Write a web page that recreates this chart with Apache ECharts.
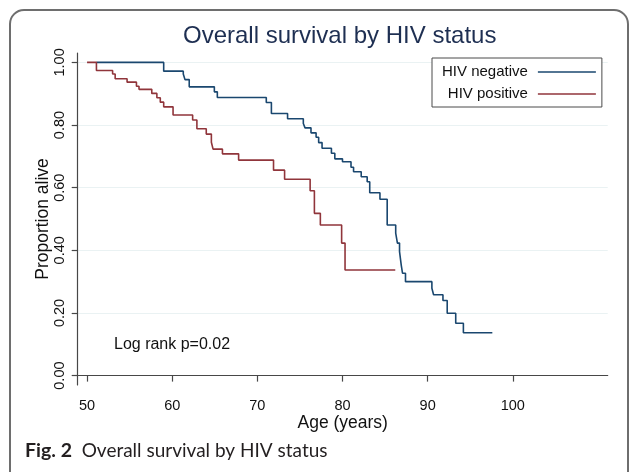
<!DOCTYPE html>
<html>
<head>
<meta charset="utf-8">
<script src="https://cdn.jsdelivr.net/npm/echarts@6/dist/echarts.min.js"></script>
<style>
html, body { margin: 0; padding: 0; background: #fff; }
#chart { width: 630px; height: 472px; }
</style>
</head>
<body>
<div id="chart"></div>
<script>
// Kaplan-Meier step points [age, proportion alive]
var hivNegative = [
    [51.1, 1.000], [59.0, 0.972], [61.3, 0.963], [61.5, 0.945], [62.0, 0.922],
    [64.95, 0.906], [65.3, 0.888], [71.05, 0.872], [71.65, 0.837], [73.55, 0.820],
    [75.4, 0.805], [75.6, 0.791], [76.3, 0.775], [76.9, 0.761], [77.2, 0.744],
    [77.6, 0.726], [78.7, 0.710], [79.1, 0.692], [80.0, 0.683], [81.0, 0.665],
    [81.3, 0.651], [82.2, 0.635], [82.9, 0.619], [83.2, 0.584], [84.4, 0.563],
    [85.25, 0.481], [86.25, 0.455], [86.45, 0.423], [86.7, 0.396], [86.9, 0.353],
    [87.05, 0.327], [87.4, 0.300], [90.5, 0.279], [90.7, 0.258], [91.8, 0.240],
    [92.3, 0.199], [93.3, 0.167], [94.2, 0.137], [97.6, 0.137]
];
var hivPositive = [
    [50.0, 1.000], [51.1, 0.974], [53.0, 0.963], [53.3, 0.948], [54.7, 0.937],
    [55.8, 0.924], [56.1, 0.914], [57.6, 0.901], [58.2, 0.887], [58.6, 0.873],
    [59.0, 0.858], [60.1, 0.832], [62.4, 0.816], [62.9, 0.788], [64.0, 0.771],
    [64.6, 0.745], [64.8, 0.723], [65.9, 0.708], [67.8, 0.688], [71.9, 0.656],
    [73.2, 0.627], [76.2, 0.590], [76.7, 0.518], [77.4, 0.481], [79.9, 0.423],
    [80.3, 0.337], [86.2, 0.337]
];
var seriesNames = ['HIV negative', 'HIV positive'];
var xTicks = [50, 60, 70, 80, 90, 100];
var yTicks = [0, 0.2, 0.4, 0.6, 0.8, 1.0];
var pValueText = 'Log rank p=0.02';

var font = '"Liberation Sans", Arial, sans-serif';
var axisColor = '#474747';

var chart = echarts.init(document.getElementById('chart'));
var option = {
    animation: false,
    backgroundColor: '#fff',
    title: {
        text: 'Overall survival by HIV status',
        left: 183,
        top: 24,
        padding: 0,
        textStyle: { fontFamily: font, fontSize: 24, fontWeight: 'normal', color: '#1e2f52' }
    },
    legend: {
        data: seriesNames,
        orient: 'vertical',
        align: 'right',
        left: 432,
        top: 58,
        padding: [6, 6, 5, 10],
        itemGap: 6,
        itemWidth: 58,
        itemHeight: 1.6,
        icon: 'rect',
        borderColor: '#4a4a4a',
        borderWidth: 1,
        backgroundColor: '#fff',
        textStyle: { fontFamily: font, fontSize: 15, color: '#111', lineHeight: 16, padding: [0, 5, 0, 0] }
    },
    grid: { left: 77.7, right: 22.3, top: 53, bottom: 87, containLabel: false },
    xAxis: {
        type: 'value',
        min: 48.9,
        max: 111.15,
        name: 'Age (years)',
        nameLocation: 'middle',
        nameGap: 29,
        nameMoveOverlap: false,
        nameTextStyle: { fontFamily: font, fontSize: 17.5, color: '#111' },
        axisLine: { lineStyle: { color: axisColor, width: 1.2 } },
        axisTick: { show: true, length: 6, customValues: xTicks, lineStyle: { color: axisColor, width: 1.2 } },
        axisLabel: { customValues: xTicks, margin: 13, fontFamily: font, fontSize: 14.5, color: '#111' },
        splitLine: { show: false }
    },
    yAxis: {
        type: 'value',
        min: -0.03,
        max: 1.03,
        name: 'Proportion alive',
        nameLocation: 'middle',
        nameGap: 26,
        nameMoveOverlap: false,
        nameTextStyle: { fontFamily: font, fontSize: 17.5, color: '#111' },
        axisLine: { show: true, lineStyle: { color: axisColor, width: 1.2 } },
        axisTick: { show: true, length: 6, customValues: yTicks, lineStyle: { color: axisColor, width: 1.2 } },
        axisLabel: {
            customValues: yTicks,
            rotate: 90,
            margin: 10,
            fontFamily: font,
            fontSize: 14.5,
            color: '#111',
            formatter: function (v) { return v.toFixed(2); }
        },
        splitLine: { show: true, lineStyle: { color: '#eaf2f3', width: 1.2 } }
    },
    series: [
        {
            name: seriesNames[0],
            type: 'line',
            step: 'end',
            symbol: 'none',
            data: hivNegative,
            itemStyle: { color: '#1a476f' },
            lineStyle: { color: '#1a476f', width: 1.6 }
        },
        {
            name: seriesNames[1],
            type: 'line',
            step: 'end',
            symbol: 'none',
            data: hivPositive,
            itemStyle: { color: '#90353b' },
            lineStyle: { color: '#90353b', width: 1.6 }
        }
    ],
    graphic: [
        {
            type: 'rect',
            z: -10,
            shape: { x: 10, y: 10, width: 618, height: 476, r: 14 },
            style: { fill: 'none', stroke: '#6e6e6e', lineWidth: 2 }
        },
        {
            type: 'text',
            left: 114,
            top: 337,
            style: { text: pValueText, font: '16px ' + font, fill: '#111' }
        },
        {
            type: 'text',
            left: 25,
            top: 441,
            style: {
                text: '{b|Fig. 2}  Overall survival by HIV status',
                font: '19px Lato, "Noto Sans", sans-serif',
                fill: '#231f20',
                rich: {
                    b: { font: 'bold 19.5px Lato, "Noto Sans", sans-serif', fill: '#231f20' }
                }
            }
        }
    ]
};
chart.setOption(option);
</script>
</body>
</html>
